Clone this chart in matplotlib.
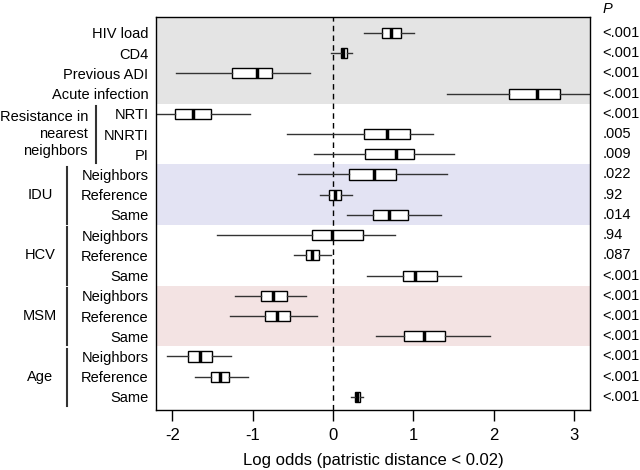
import matplotlib
matplotlib.use("Agg")
import matplotlib.pyplot as plt

plt.rcParams["font.family"] = ["Liberation Sans", "DejaVu Sans"]

row_labels = ["HIV load", "CD4", "Previous ADI", "Acute infection",
              "NRTI", "NNRTI", "PI",
              "Neighbors", "Reference", "Same",
              "Neighbors", "Reference", "Same",
              "Neighbors", "Reference", "Same",
              "Neighbors", "Reference", "Same"]

whislo = [0.39, -0.02, -1.95, 1.42, -2.30, -0.57, -0.23, -0.43, -0.16, 0.18,
          -1.44, -0.48, 0.43, -1.22, -1.28, 0.53, -2.06, -1.72, 0.22]
q1 = [0.61, 0.10, -1.26, 2.19, -1.96, 0.39, 0.40, 0.20, -0.05, 0.50,
      -0.26, -0.33, 0.87, -0.89, -0.84, 0.89, -1.80, -1.52, 0.27]
med = [0.72, 0.13, -0.94, 2.54, -1.74, 0.67, 0.78, 0.51, 0.02, 0.70,
       -0.01, -0.26, 1.02, -0.74, -0.69, 1.13, -1.66, -1.41, 0.30]
q3 = [0.85, 0.17, -0.76, 2.82, -1.52, 0.96, 1.01, 0.79, 0.10, 0.94,
      0.38, -0.17, 1.29, -0.57, -0.53, 1.40, -1.51, -1.29, 0.34]
whishi = [1.01, 0.24, -0.29, 3.30, -1.03, 1.25, 1.51, 1.42, 0.24, 1.35,
          0.77, -0.03, 1.59, -0.33, -0.20, 1.96, -1.27, -1.06, 0.38]

p_values = ["<.001", "<.001", "<.001", "<.001", "<.001", ".005", ".009",
            ".022", ".92", ".014", ".94", ".087", "<.001",
            "<.001", "<.001", "<.001", "<.001", "<.001", "<.001"]

# group name, first row, last row
groups = [("Resistance in\nnearest\nneighbors", 5, 7),
          ("IDU", 8, 10), ("HCV", 11, 13), ("MSM", 14, 16), ("Age", 17, 19)]

# shaded bands: (first row, last row, colour)
bands = [(1, 4, "#e4e4e4"), (8, 10, "#e3e3f3"), (14, 16, "#f3e3e3")]

rows = list(range(1, len(row_labels) + 1))

fig = plt.figure(figsize=(6.4, 4.7), dpi=100)
ax = fig.add_axes([0.244, 0.128, 0.678, 0.836])

for first, last, color in bands:
    ax.axhspan(first - 0.5 if first > 1 else 0, last + 0.5, color=color, lw=0, zorder=0)

ax.axvline(0, color="black", ls=(0, (4, 3)), lw=1, zorder=1)

stats = [dict(whislo=a, q1=b, med=c, q3=d, whishi=e)
         for a, b, c, d, e in zip(whislo, q1, med, q3, whishi)]
ax.bxp(stats, positions=rows, widths=0.5, orientation="horizontal",
       showfliers=False, showcaps=False, patch_artist=True,
       boxprops=dict(facecolor="white", edgecolor="black", lw=1),
       whiskerprops=dict(color="#333333", lw=1),
       medianprops=dict(color="black", lw=2.5), zorder=2)

ax.set_xlim(-2.2, 3.2)
ax.set_ylim(19.64, 0.21)
ax.set_xticks([-2, -1, 0, 1, 2, 3])
ax.set_xticklabels(["-2", "-1", "0", "1", "2", "3"])
ax.set_yticks(rows, row_labels)
ax.tick_params(axis="y", length=0, pad=5.5, labelsize=10.5)
ax.tick_params(axis="x", length=8, width=1, labelsize=12, pad=5)
ax.set_xlabel("Log odds (patristic distance < 0.02)", fontsize=12, labelpad=7)
for sp in ax.spines.values():
    sp.set_linewidth(1)

ytr = ax.get_yaxis_transform()
for name, first, last in groups:
    line_x = -0.138 if first == 5 else -0.205
    ax.plot([line_x, line_x], [first - 0.38, last + 0.45], transform=ytr,
            color="#333333", lw=1.5, clip_on=False)
    mid = (first + last) / 2
    if first == 5:
        ax.text(-0.157, mid, name, transform=ytr, ha="right", va="center",
                fontsize=10.5, linespacing=1.25)
    else:
        ax.text(-0.267, mid, name, transform=ytr, ha="center", va="center",
                fontsize=10.5)

for r, p in zip(rows, p_values):
    ax.text(1.028, r, p, transform=ytr, ha="left", va="center", fontsize=10.5)

fig.text(603 / 640, 1 - 9 / 470, "P", style="italic", ha="left", va="center",
         fontsize=10.5)

plt.savefig("out.png", dpi=100)
